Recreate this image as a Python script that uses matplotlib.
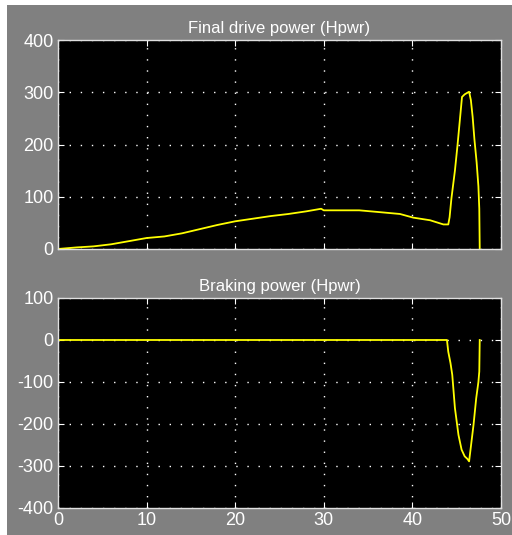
import matplotlib
import matplotlib.pyplot as plt
from matplotlib.patches import Rectangle

matplotlib.rc('font', family='Liberation Sans', size=13)
matplotlib.rc('axes', unicode_minus=False)

# final drive power trace (time in s, power in Hpwr)
drive_t = [0.0, 2.1, 4.0, 6.0, 8.0, 10.0, 12.0, 14.0, 16.0, 18.0, 20.0, 22.0, 24.0,
           26.0, 28.0, 29.7, 30.0, 32.0, 34.0, 36.0, 38.6, 40.1, 42.0, 43.5, 44.05,
           44.2, 44.4, 44.8, 45.1, 45.6, 45.9, 46.4, 46.6, 46.8, 47.0, 47.25, 47.45,
           47.55, 47.6]
drive_p = [0.0, 3.0, 5.0, 9.0, 15.0, 21.0, 24.0, 30.0, 38.0, 46.0, 53.0, 58.0, 63.0,
           67.0, 72.0, 77.0, 74.0, 74.0, 74.0, 71.0, 67.0, 60.0, 55.0, 47.0, 47.0,
           61.0, 96.0, 150.0, 200.0, 291.0, 296.0, 301.0, 285.0, 253.0, 210.0, 166.0, 120.0,
           77.0, 0.0]

# braking power trace
brake_t = [0.0, 43.9, 44.05, 44.3, 44.5, 44.8, 45.2, 45.55, 45.9, 46.2, 46.4,
           46.9, 47.2, 47.45, 47.55, 47.6]
brake_p = [0.0, 0.0, -28.0, -55.0, -83.0, -162.0, -226.0, -261.0, -277.0, -283.0, -289.0,
           -202.0, -139.0, -100.0, -75.0, 0.0]

drive_yticks = [0, 100, 200, 300, 400]
brake_yticks = [-400, -300, -200, -100, 0, 100]
xticks = [0, 10, 20, 30, 40, 50]

fig = plt.figure(figsize=(5.12, 5.35), dpi=100, facecolor='white')
# grey scope panel inside the window frame
fig.patches.append(Rectangle((7 / 512, 0), 1, 1 - 5 / 535, transform=fig.transFigure,
                             facecolor='#808080', edgecolor='none', zorder=-10))
ax1 = fig.add_axes([0.1133, 0.5346, 0.8652, 0.3906])
ax2 = fig.add_axes([0.1133, 0.0505, 0.8652, 0.3925])

panels = [
    (ax1, drive_t, drive_p, drive_yticks, 'Final drive power (Hpwr)'),
    (ax2, brake_t, brake_p, brake_yticks, 'Braking power (Hpwr)'),
]
for ax, t, p, yt, title in panels:
    ax.set_facecolor('black')
    ax.plot(t, p, color='#ffff00', linewidth=1.3)
    ax.set_xlim(0, 50)
    ax.set_ylim(yt[0], yt[-1])
    ax.set_xticks(xticks)
    ax.set_yticks(yt)
    ax.grid(True, color='white', linestyle=(0, (1, 7)), linewidth=1.0)
    ax.tick_params(direction='in', length=4, color='white', labelcolor='white',
                   top=True, right=True, labelsize=13)
    ax.tick_params(axis='y', pad=3)
    ax.tick_params(axis='x', pad=3)
    for s in ax.spines.values():
        s.set_color('#e0e0e0')
        s.set_linewidth(1.0)
    ax.set_title(title, color='white', fontsize=12, pad=5)

ax1.set_xticklabels([])

fig.savefig('out.png', dpi=100, facecolor=fig.get_facecolor())
